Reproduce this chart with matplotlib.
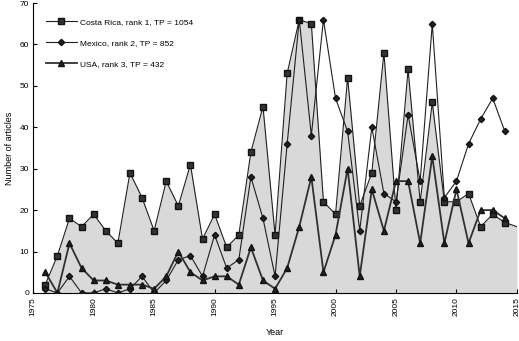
import numpy as np
import matplotlib.pyplot as plt

plt.rcParams['font.family'] = ['Liberation Sans', 'DejaVu Sans']

# articles per year
years = list(range(1976, 2016))
costa_rica = [2, 9, 18, 16, 19, 15, 12, 29, 23, 15,
              27, 21, 31, 13, 19, 11, 14, 34, 45, 14,
              53, 66, 65, 22, 19, 52, 21, 29, 58, 20,
              54, 22, 46, 22, 22, 24, 16, 19, 17, 16]
years_mx = list(range(1976, 2015))
mexico = [1, 0, 4, 0, 0, 1, 0, 1, 4, 0,
          3, 8, 9, 4, 14, 6, 8, 28, 18, 4,
          36, 66, 38, 66, 47, 39, 15, 40, 24, 22,
          43, 27, 65, 23, 27, 36, 42, 47, 39]
years_us = list(range(1976, 2015))
usa = [5, 0, 12, 6, 3, 3, 2, 2, 2, 1,
       4, 10, 5, 3, 4, 4, 2, 11, 3, 1,
       6, 16, 28, 5, 14, 30, 4, 25, 15, 27,
       27, 12, 33, 12, 25, 12, 20, 20, 18]

labels = ['Costa Rica, rank 1, TP = 1054',
          'Mexico, rank 2, TP = 852',
          'USA, rank 3, TP = 432']
xticks = list(range(1975, 2016, 5))
yticks = list(range(0, 71, 10))

fig = plt.figure(figsize=(5.19, 3.41), dpi=100)
ax = fig.add_axes([0.064, 0.141, 0.932, 0.850])

ax.fill_between(years, costa_rica, 0, color='#d9d9d9', lw=0, zorder=1)
ax.plot(years, costa_rica, color='#202020', lw=0.8, marker='s', ms=5,
        mfc='#333333', mec='#111111', markevery=list(range(len(years) - 1)),
        label=labels[0], zorder=3)
ax.plot(years_mx, mexico, color='#202020', lw=0.8, marker='D', ms=3.2,
        mfc='#222222', mec='#111111', label=labels[1], zorder=4)
ax.plot(years_us, usa, color='#303030', lw=1.3, marker='^', ms=4.5,
        mfc='#222222', mec='#111111', label=labels[2], zorder=5)

ax.set_xlim(1975, 2015)
ax.set_ylim(0, 70)
ax.set_xticks(xticks)
ax.set_xticklabels([str(x) for x in xticks], rotation=90, fontsize=6)
ax.set_yticks(yticks)
ax.set_yticklabels([str(y) for y in yticks], fontsize=6)
ax.tick_params(direction='in', length=3, width=0.8, pad=3)

ax.spines['top'].set_visible(False)
ax.spines['right'].set_visible(False)
ax.spines['left'].set_linestyle((0, (1.5, 1)))
ax.spines['left'].set_linewidth(0.8)
ax.spines['bottom'].set_linewidth(0.8)

ax.set_xlabel('Year', fontsize=6.5, labelpad=9)
ax.set_ylabel('Number of articles', fontsize=6.5, labelpad=4)

ax.legend(loc='upper left', bbox_to_anchor=(0.01, 0.975), frameon=False,
          fontsize=6, handlelength=3.8, labelspacing=1.6, handletextpad=0.3)

fig.savefig('out.png', dpi=100)
